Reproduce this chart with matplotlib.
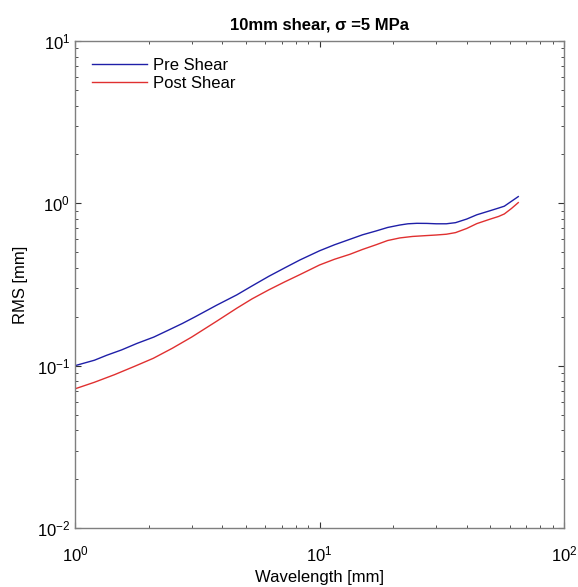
#!/usr/bin/env python
"""RMS roughness vs wavelength, before and after 10 mm shear."""

import matplotlib

matplotlib.use("Agg")
import matplotlib.pyplot as plt  # noqa: E402

# values (log-log)
wavelength_pre = [1.0, 1.2, 1.35, 1.55, 1.79, 2.1, 2.4, 2.75, 3.1, 3.8, 4.59, 5.3,
                  6.2, 7.2, 8.32, 10.0, 11.5, 13.3, 15.0, 17.0, 19.0, 21.3, 23.0,
                  25.0, 27.5, 30.0, 33.0, 36.0, 40.0, 44.0, 49.8, 54.0, 57.0,
                  61.0, 65.0]
rms_pre = [0.100, 0.108, 0.116, 0.125, 0.137, 0.150, 0.165, 0.182, 0.200, 0.236,
           0.273, 0.310, 0.355, 0.400, 0.448, 0.510, 0.555, 0.600, 0.640, 0.675,
           0.710, 0.735, 0.748, 0.753, 0.752, 0.748, 0.748, 0.760, 0.800, 0.850,
           0.900, 0.935, 0.960, 1.03, 1.10]

wavelength_post = [1.0, 1.2, 1.45, 1.75, 2.09, 2.5, 3.0, 3.8, 4.59, 5.3, 6.2, 7.2,
                   8.32, 10.0, 11.5, 13.3, 15.0, 17.0, 19.0, 21.3, 24.0, 27.0,
                   30.0, 33.0, 36.0, 40.0, 44.0, 50.0, 54.0, 57.0, 61.0, 65.0]
rms_post = [0.072, 0.079, 0.088, 0.099, 0.111, 0.128, 0.150, 0.188, 0.226, 0.258,
            0.293, 0.328, 0.364, 0.417, 0.452, 0.485, 0.520, 0.555, 0.590, 0.612,
            0.625, 0.632, 0.638, 0.645, 0.660, 0.700, 0.750, 0.800, 0.830, 0.860,
            0.930, 1.01]

FONT = "Liberation Sans"
AXIS_GREY = "#7f7f7f"


def main() -> None:
    plt.rcParams["font.family"] = [FONT, "DejaVu Sans"]
    plt.rcParams["mathtext.fontset"] = "custom"
    plt.rcParams["mathtext.rm"] = FONT
    plt.rcParams["mathtext.it"] = FONT + ":italic"
    plt.rcParams["mathtext.bf"] = FONT + ":bold"
    plt.rcParams["axes.unicode_minus"] = False

    fig = plt.figure(figsize=(5.78, 5.87), dpi=100)
    ax = fig.add_axes([0.1298, 0.1005, 0.846, 0.8297])

    ax.plot(wavelength_pre, rms_pre, color="#1f1fa8", lw=1.0, label="Pre Shear")
    ax.plot(wavelength_post, rms_post, color="#e03030", lw=1.0, label="Post Shear")

    ax.set_xscale("log")
    ax.set_yscale("log")
    ax.set_xlim(1, 100)
    ax.set_ylim(0.01, 10)

    ax.tick_params(which="both", direction="in", top=True, right=True,
                   labelsize=12, color="#333333")
    ax.tick_params(axis="x", which="major", pad=12)
    ax.tick_params(which="major", length=4)
    ax.tick_params(which="minor", length=2.5)
    for spine in ax.spines.values():
        spine.set_color(AXIS_GREY)
        spine.set_linewidth(1.0)

    ax.set_xlabel("Wavelength [mm]", fontsize=12, labelpad=4)
    ax.set_ylabel("RMS [mm]", fontsize=12, labelpad=6)
    ax.set_title("10mm shear, σ =5 MPa", fontsize=12, fontweight="bold", pad=8)

    ax.legend(loc="upper left", frameon=False, fontsize=12, handlelength=3.3,
              handletextpad=0.4, labelspacing=0.2, borderaxespad=0.6)

    fig.savefig("out.png", dpi=100)
    plt.close(fig)


if __name__ == "__main__":
    main()
